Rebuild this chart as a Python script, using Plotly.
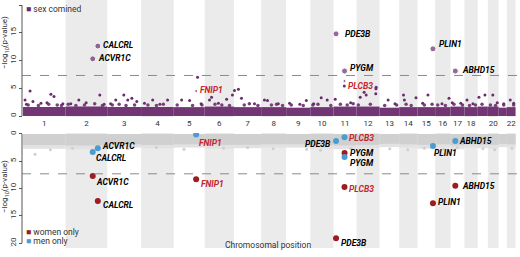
import plotly.graph_objects as go

# ---------------- data ----------------
chrom_names = [str(i) for i in range(1, 23)]
chrom_len = [249, 243, 198, 191, 181, 171, 159, 146, 141, 136, 135,
             134, 115, 107, 103, 90, 81, 78, 59, 63, 48, 51]
chrom_labelled = [1, 2, 3, 4, 5, 6, 7, 8, 9, 10, 11, 12, 13, 14, 15, 16, 17, 18, 20, 22]

genes = ["CALCRL", "ACVR1C", "FNIP1", "PDE3B", "PYGM", "PLCB3", "PLIN1", "ABHD15"]
gene_chr = [2, 2, 5, 11, 11, 11, 15, 17]
gene_pos = [188.2, 158.4, 131.0, 14.7, 64.5, 64.0, 90.2, 27.9]
combined_logp = [12.6, 10.3, 4.5, 14.8, 8.1, 6.3, 12.1, 8.1]
women_logp = [12.3, 7.7, 8.3, 19.1, 3.5, 9.7, 12.7, 9.5]
men_logp = [2.6, 3.3, 0.1, 1.3, 4.2, 0.6, 2.2, 1.3]
combined_big = [True, True, False, True, True, False, True, True]

# dense background cloud height per chromosome (-log10 p)
cloud_combined = [1.6, 1.7, 1.6, 1.6, 1.6, 1.7, 1.6, 1.6, 1.5, 1.6, 1.7,
                  1.7, 1.5, 1.6, 1.6, 1.6, 1.7, 1.6, 1.7, 1.7, 1.5, 1.6]
cloud_sexspec = [2.0, 2.1, 1.9, 2.0, 1.9, 2.0, 2.0, 1.9, 1.9, 2.0, 2.1,
                 2.0, 1.8, 1.9, 2.0, 1.9, 2.1, 1.9, 2.0, 2.0, 1.8, 1.9]
cloud_sexspec_faint = [2.7, 2.8, 2.5, 2.6, 2.5, 2.7, 2.6, 2.5, 2.5, 2.7, 2.8,
                       2.6, 2.4, 2.5, 2.7, 2.5, 2.8, 2.5, 2.6, 2.7, 2.4, 2.5]

# scattered combined-analysis SNPs above the dense cloud
top_snp_chr = [1, 1, 1, 1, 1, 1, 1, 1, 1, 2, 2, 2, 2, 2, 3, 3, 3, 3, 3, 3, 4, 4, 4, 4,
               5, 5, 5, 5, 6, 6, 6, 6, 6, 7, 7, 7, 7, 8, 8, 8, 9, 9, 9, 10, 10, 10,
               11, 11, 11, 12, 12, 12, 12, 12, 12, 13, 13, 14, 14, 14, 15, 15, 16, 16,
               17, 17, 18, 18, 19, 19, 20, 20, 21, 22, 22]
top_snp_pos = [12, 41, 58, 105, 163, 181, 233, 20, 140, 77, 200, 30, 120, 225, 50, 97,
               120, 144, 173, 20, 68, 155, 20, 110, 46, 93, 139, 160, 28, 40, 128, 162,
               80, 3, 26, 44, 120, 19, 37, 100, 118, 80, 20, 64, 99, 20,
               10, 63, 100, 21, 44, 56, 114, 113, 112, 50, 90, 25, 30, 98, 61, 30, 81, 40,
               10, 60, 15, 50, 7, 42, 29, 55, 30, 20, 40]
top_snp_val = [2.9, 4.5, 2.6, 2.3, 3.9, 3.5, 2.2, 2.1, 2.4, 2.9, 3.8, 2.2, 2.4, 2.1, 2.9, 3.8,
               2.9, 3.2, 2.6, 2.2, 2.9, 2.9, 2.3, 2.1, 2.9, 2.8, 7.0, 2.2, 2.9, 3.4, 3.0, 3.8,
               2.3, 4.6, 4.8, 3.2, 2.2, 2.9, 2.8, 2.2, 2.8, 2.1, 2.3, 3.3, 2.9, 2.2,
               3.0, 5.4, 2.4, 3.4, 4.3, 3.8, 5.2, 4.9, 4.0, 2.9, 2.2, 3.8, 2.9, 3.3, 3.8, 2.3, 3.2, 2.2,
               2.4, 2.3, 2.9, 2.2, 3.4, 3.8, 3.8, 2.4, 2.2, 2.9, 2.3]

# weaker signals just above the dense cloud (jagged cloud edge)
edge_snp_chr = [1, 1, 1, 1, 1, 2, 2, 2, 2, 2, 3, 3, 3, 3, 4, 4, 4, 5, 5, 5, 6, 6, 6,
                7, 7, 7, 8, 8, 8, 9, 9, 10, 10, 10, 11, 11, 11, 12, 12, 13, 13, 14, 14,
                15, 15, 16, 16, 17, 17, 18, 18, 19, 20, 20, 21, 22]
edge_snp_pos = [30, 90, 150, 200, 225, 15, 60, 110, 170, 215, 30, 70, 110, 160, 40, 90,
                130, 20, 110, 165, 60, 100, 145, 60, 90, 140, 60, 90, 125, 30, 100, 15,
                45, 120, 40, 80, 115, 10, 80, 30, 100, 40, 70, 40, 85, 15, 60, 20, 70,
                30, 65, 25, 15, 45, 30, 40]
edge_snp_val = [2.0, 1.9, 2.1, 2.0, 1.9, 2.1, 1.9, 2.0, 2.2, 1.9, 2.0, 2.1, 1.9, 2.0, 2.0, 1.9,
                2.1, 2.0, 1.9, 2.0, 2.1, 2.0, 1.9, 2.0, 2.2, 1.9, 2.0, 2.1, 1.9, 2.0, 1.9, 2.0,
                2.1, 1.9, 2.1, 2.0, 2.2, 2.0, 2.1, 1.9, 2.0, 2.1, 1.9, 2.0, 2.1, 2.0, 1.9, 2.1,
                2.0, 1.9, 2.0, 2.1, 2.0, 1.9, 2.0, 2.0]

# scattered sex-specific SNPs below the dense grey cloud
bot_snp_chr = [1, 1, 2, 3, 4, 5, 6, 7, 8, 9, 10, 11, 12, 13, 14, 15, 16, 17, 19, 20, 22]
bot_snp_pos = [70, 160, 40, 120, 90, 60, 110, 80, 70, 120, 60, 100, 90, 60, 50, 40, 50, 40, 30, 40, 30]
bot_snp_val = [3.7, 2.9, 2.6, 2.7, 2.5, 2.8, 2.6, 2.5, 2.7, 2.8, 3.0, 2.6, 2.9, 2.7, 2.9, 2.6, 2.8, 2.5, 2.7, 2.9, 2.6]

threshold = 7.3

# ---------------- derived positions ----------------
chrom_start = []
acc = 0
for L in chrom_len:
    chrom_start.append(acc)
    acc += L
genome_end = acc
chrom_mid = [s + L / 2 for s, L in zip(chrom_start, chrom_len)]


def cum(c, p):
    return chrom_start[c - 1] + p


gene_x = [cum(c, p) for c, p in zip(gene_chr, gene_pos)]
top_x = [cum(c, p) for c, p in zip(top_snp_chr, top_snp_pos)]
edge_x = [cum(c, p) for c, p in zip(edge_snp_chr, edge_snp_pos)]
bot_x = [cum(c, p) for c, p in zip(bot_snp_chr, bot_snp_pos)]

# ---------------- styles ----------------
W, H = 520, 257
PURPLE = "#6B2C6E"
RED = "#9E1B20"
BLUE = "#4C9BD1"
GREY_PT = "#CFCFCF"
BAND = "#EBEBEB"
LABEL_RED = "#C4262B"
TXT = "#333333"
FONT = "Roboto"

def px_x(p):
    return p / W

def px_y(p):
    return 1 - p / H

fig = go.Figure()

# dense clouds
fig.add_trace(go.Bar(x=chrom_mid, y=cloud_combined, width=chrom_len, base=0,
                     marker=dict(color=PURPLE, line=dict(width=0)), opacity=0.95,
                     xaxis="x", yaxis="y", showlegend=False, hoverinfo="skip"))
fig.add_trace(go.Bar(x=chrom_mid, y=cloud_sexspec_faint, width=chrom_len, base=0,
                     marker=dict(color="#E2E2E2", line=dict(width=0)),
                     xaxis="x2", yaxis="y2", showlegend=False, hoverinfo="skip"))
fig.add_trace(go.Bar(x=chrom_mid, y=cloud_sexspec, width=chrom_len, base=0,
                     marker=dict(color="#D0D0D0", line=dict(width=0)),
                     xaxis="x2", yaxis="y2", showlegend=False, hoverinfo="skip"))

# scattered SNPs
fig.add_trace(go.Scatter(x=edge_x, y=edge_snp_val, mode="markers",
                         marker=dict(color="#7A3F7D", size=3.5), xaxis="x", yaxis="y",
                         showlegend=False))
fig.add_trace(go.Scatter(x=top_x, y=top_snp_val, mode="markers",
                         marker=dict(color=PURPLE, size=3), xaxis="x", yaxis="y",
                         showlegend=False))
fig.add_trace(go.Scatter(x=bot_x, y=bot_snp_val, mode="markers",
                         marker=dict(color=GREY_PT, size=3), xaxis="x2", yaxis="y2",
                         showlegend=False))

# gene points, combined
fig.add_trace(go.Scatter(x=gene_x, y=combined_logp, mode="markers",
                         marker=dict(color=PURPLE,
                                     size=[6 if b else 3 for b in combined_big]),
                         xaxis="x", yaxis="y", showlegend=False))
# women / men
fig.add_trace(go.Scatter(x=gene_x, y=women_logp, mode="markers",
                         marker=dict(color=RED, size=6), xaxis="x2", yaxis="y2",
                         showlegend=False))
fig.add_trace(go.Scatter(x=gene_x, y=men_logp, mode="markers",
                         marker=dict(color=BLUE, size=6), xaxis="x2", yaxis="y2",
                         showlegend=False))

shapes = []
# even chromosome bands
for i, (s, L) in enumerate(zip(chrom_start, chrom_len)):
    if (i + 1) % 2 == 0:
        for xr, yr in (("x", "y domain"), ("x2", "y2 domain")):
            shapes.append(dict(type="rect", xref=xr, yref=yr, x0=s, x1=s + L, y0=0, y1=1,
                               fillcolor=BAND, line=dict(width=0), layer="below"))
# threshold lines and y-axis lines
for xr, yr in (("x", "y"), ("x2", "y2")):
    shapes.append(dict(type="line", xref="paper", yref=yr, x0=22 / W, x1=1,
                       y0=threshold, y1=threshold,
                       line=dict(color="#8A8A8A", width=1, dash="dash")))
    shapes.append(dict(type="line", xref="paper", yref=yr, x0=22 / W, x1=22 / W,
                       y0=0, y1=20, line=dict(color="#555555", width=1)))

annotations = []
# gene label offsets (pixels) : styling only
top_lbl = {"CALCRL": (3, 1), "ACVR1C": (3, 1), "FNIP1": (2, 1), "PDE3B": (7, 0),
           "PYGM": (3, 3), "PLCB3": (2, -5), "PLIN1": (4, 5), "ABHD15": (5, 1)}
women_lbl = {"CALCRL": (3, -4), "ACVR1C": (1, -6), "FNIP1": (3, -5), "PDE3B": (3, -5),
             "PYGM": (3, 0), "PLCB3": (3, -2), "PLIN1": (3, 1), "ABHD15": (5, 0)}
men_lbl = {"CALCRL": (-4, -10), "ACVR1C": (7, 6), "FNIP1": (1, -8), "PDE3B": (-3, -3),
           "PYGM": (3, -6), "PLCB3": (3, -1), "PLIN1": (-1, -7), "ABHD15": (2, 0)}
red_text = {"FNIP1", "PLCB3"}


def lbl(g, x, y, xr, yr, off):
    anchor = "right" if (off[0] < 0 and g == "PDE3B") else "left"
    annotations.append(dict(x=x, y=y, xref=xr, yref=yr, text=f"<b><i>{g}</i></b>",
                            showarrow=False, xanchor=anchor, yanchor="middle",
                            xshift=off[0], yshift=off[1],
                            font=dict(family=FONT, size=8.5,
                                      color=LABEL_RED if g in red_text else "black")))


for g, x, yc, yw, ym in zip(genes, gene_x, combined_logp, women_logp, men_logp):
    lbl(g, x, yc, "x", "y", top_lbl[g])
    lbl(g, x, yw, "x2", "y2", women_lbl[g])
    lbl(g, x, ym, "x2", "y2", men_lbl[g])

# legends
def legend_item(color, text, ypx):
    annotations.append(dict(x=px_x(24), y=px_y(ypx), xref="paper", yref="paper",
                            xanchor="left", yanchor="middle", showarrow=False,
                            text=f'<span style="color:{color}">■</span> {text}',
                            font=dict(family=FONT, size=8.5, color=TXT)))

legend_item(PURPLE, "sex comined", 9)
legend_item(RED, "women only", 232)
legend_item(BLUE, "men only", 241)

# axis titles
for ypx in (43, 187):
    annotations.append(dict(x=px_x(5), y=px_y(ypx), xref="paper", yref="paper",
                            textangle=-90, showarrow=False, xanchor="center",
                            yanchor="middle", text="\u2212log<sub>10</sub>(p-value)",
                            font=dict(family=FONT, size=8, color=TXT)))
annotations.append(dict(x=0.515, y=px_y(252), xref="paper", yref="paper",
                        showarrow=False, text="Chromosomal position",
                        font=dict(family=FONT, size=8.5, color=TXT)))

xrange = [-6, 2905]
common_y = dict(tickvals=[0, 5, 10, 15, 20], tickangle=-90, ticks="outside", ticklen=3,
                tickcolor="#555555", showgrid=False, zeroline=False, showline=False,
                automargin=False,
                tickfont=dict(family=FONT, size=8, color=TXT))

fig.update_layout(
    width=W, height=H, margin=dict(l=0, r=0, t=0, b=0, autoexpand=False),
    paper_bgcolor="white", plot_bgcolor="white", barmode="overlay",
    showlegend=False,
    xaxis=dict(domain=[22 / W, 1], range=xrange, anchor="y", automargin=False,
               tickvals=[chrom_mid[c - 1] for c in chrom_labelled],
               ticktext=[chrom_names[c - 1] for c in chrom_labelled],
               ticks="", showgrid=False, zeroline=False, showline=False,
               tickfont=dict(family=FONT, size=8, color=TXT)),
    xaxis2=dict(domain=[22 / W, 1], range=xrange, anchor="y2", matches="x",
                automargin=False,
                showticklabels=False, ticks="", showgrid=False, zeroline=False,
                showline=False),
    yaxis=dict(domain=[px_y(117), 1], range=[-0.18, 20.9], anchor="free",
               position=22 / W, **common_y),
    yaxis2=dict(domain=[px_y(248), px_y(133)], range=[20.9, -0.18], anchor="free",
                position=22 / W, **common_y),
    shapes=shapes, annotations=annotations,
)

fig.write_html("out.html", config={"displayModeBar": False},
               post_script="document.body.style.margin='0';")
